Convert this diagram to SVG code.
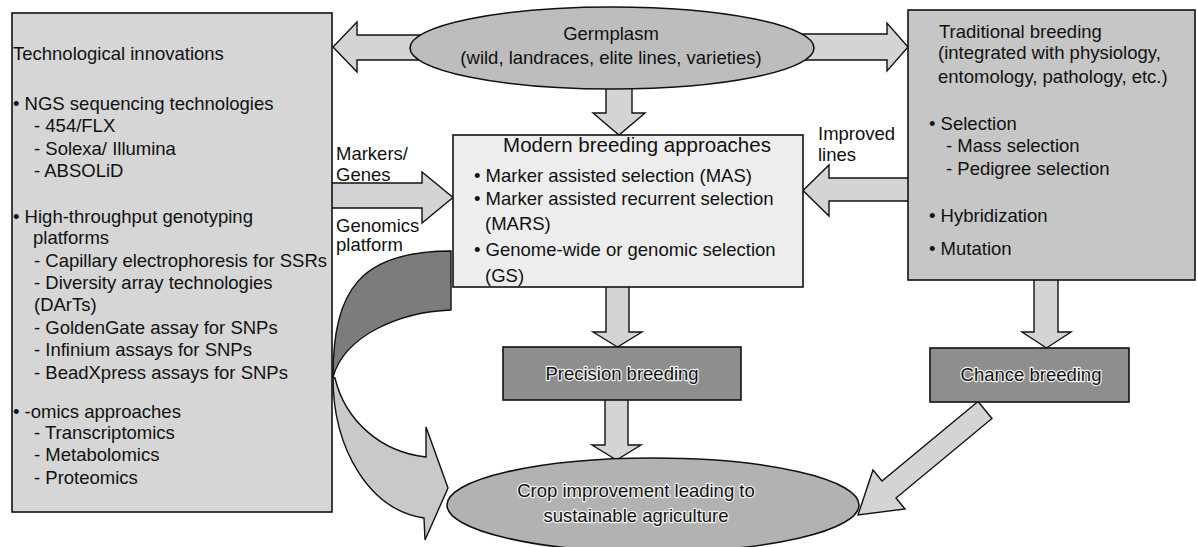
<svg xmlns="http://www.w3.org/2000/svg" width="1198" height="547" viewBox="0 0 1198 547">
<style>
text{font-family:"Liberation Sans",Arial,sans-serif;font-size:18.5px;fill:#111}
.box{stroke:#111;stroke-width:1.6}
.arr{fill:#d4d4d4;stroke:#111;stroke-width:1.4;stroke-linejoin:miter}
.halo{stroke:#f2f2f2;stroke-width:2.4;paint-order:stroke;stroke-linejoin:round}
.mid{text-anchor:middle}
</style>
<rect width="1198" height="547" fill="#fff"/>
<g id="connectors">
<polygon class="arr" points="425,35 357,35 357,22 333,47 357,72 357,60 425,60"/>
<polygon class="arr" points="800,34 887,34 887,23 908,47 887,71 887,60 800,60"/>
<polygon class="arr" points="606,80 632,80 632,113 645,113 619,135 593,113 606,113"/>
<polygon class="arr" points="331,183 422,183 422,172 453,197.5 422,223 422,208 331,208"/>
<polygon class="arr" points="909,178 829,178 829,165 803,190.5 829,216 829,201 909,201"/>
<polygon class="arr" points="606,286 629,286 629,332 642,332 617.5,347 593,332 606,332"/>
<polygon class="arr" points="605,399 628,399 628,445 641,445 616.5,460 592,445 605,445"/>
<polygon class="arr" points="1034,279 1058,279 1058,332 1071,332 1046.5,348 1022,332 1034,332"/>
<polygon class="arr" points="978,401.5 882,481 873,470 858,515 905,509 896,498 992,418.5"/>
<g id="curved-arrow">
<path d="M451,251 C360,251 333,290 333,377 C345,335 400,312 451,310 Z" fill="#7c7c7c" stroke="#111" stroke-width="1.4"/>
<path d="M335,378 C345,420 380,452 426,457 L426,427 L448,488 L425,540 L424,518 C370,510 333,450 333,377 Z" fill="#c9c9c9" stroke="#111" stroke-width="1.4" stroke-linejoin="miter"/>
</g>
</g>
<g id="germplasm">
<ellipse class="box" cx="612" cy="48" rx="202" ry="41" fill="#bdbdbd"/>
<text class="mid" x="611" y="40">Germplasm</text>
<text class="mid" x="611" y="64">(wild, landraces, elite lines, varieties)</text>
</g>
<g id="tech">
<rect class="box" x="12" y="13" width="320" height="499" fill="#d6d6d6"/>
<text x="13" y="60">Technological innovations</text>
<text x="13" y="110">• NGS sequencing technologies</text>
<text x="34" y="132">- 454/FLX</text>
<text x="34" y="155">- Solexa/ Illumina</text>
<text x="34" y="177">- ABSOLiD</text>
<text x="13" y="223">• High-throughput genotyping</text>
<text x="33" y="244">platforms</text>
<text x="34" y="267">- Capillary electrophoresis for SSRs</text>
<text x="34" y="289">- Diversity array technologies</text>
<text x="34" y="311">(DArTs)</text>
<text x="34" y="334">- GoldenGate assay for SNPs</text>
<text x="34" y="356">- Infinium assays for SNPs</text>
<text x="34" y="379">- BeadXpress assays for SNPs</text>
<text x="13" y="418">• -omics approaches</text>
<text x="34" y="439">- Transcriptomics</text>
<text x="34" y="461">- Metabolomics</text>
<text x="34" y="484">- Proteomics</text>
</g>
<g id="labels">
<text x="336" y="160">Markers/</text>
<text x="336" y="181">Genes</text>
<text x="336" y="232">Genomics</text>
<text x="336" y="251">platform</text>
<text x="818" y="140">Improved</text>
<text x="818" y="161">lines</text>
</g>
<g id="modern">
<rect class="box" x="453" y="135" width="350" height="152" fill="#ededed"/>
<text class="mid" x="637" y="152" style="font-size:20.5px">Modern breeding approaches</text>
<text x="474" y="182">• Marker assisted selection (MAS)</text>
<text x="474" y="205">• Marker assisted recurrent selection</text>
<text x="485" y="230">(MARS)</text>
<text x="474" y="256">• Genome-wide or genomic selection</text>
<text x="485" y="282">(GS)</text>
</g>
<g id="traditional">
<rect class="box" x="908" y="10" width="287" height="270" fill="#c6c6c6"/>
<text x="939" y="38">Traditional breeding</text>
<text x="938" y="59">(integrated with physiology,</text>
<text x="938" y="83">entomology, pathology, etc.)</text>
<text x="929" y="130">• Selection</text>
<text x="946" y="152">- Mass selection</text>
<text x="946" y="175">- Pedigree selection</text>
<text x="929" y="222">• Hybridization</text>
<text x="929" y="255">• Mutation</text>
</g>
<g id="precision">
<rect class="box" x="503" y="347" width="238" height="53" fill="#8e8e8e"/>
<text class="mid halo" x="622" y="380">Precision breeding</text>
</g>
<g id="chance">
<rect class="box" x="930" y="348" width="199" height="54" fill="#8e8e8e"/>
<text class="mid halo" x="1031" y="381">Chance breeding</text>
</g>
<g id="crop">
<ellipse class="box" cx="653" cy="505" rx="206" ry="47" fill="#b2b2b2"/>
<text class="mid halo" x="636" y="497">Crop improvement leading to</text>
<text class="mid halo" x="636" y="522">sustainable agriculture</text>
</g>
</svg>
